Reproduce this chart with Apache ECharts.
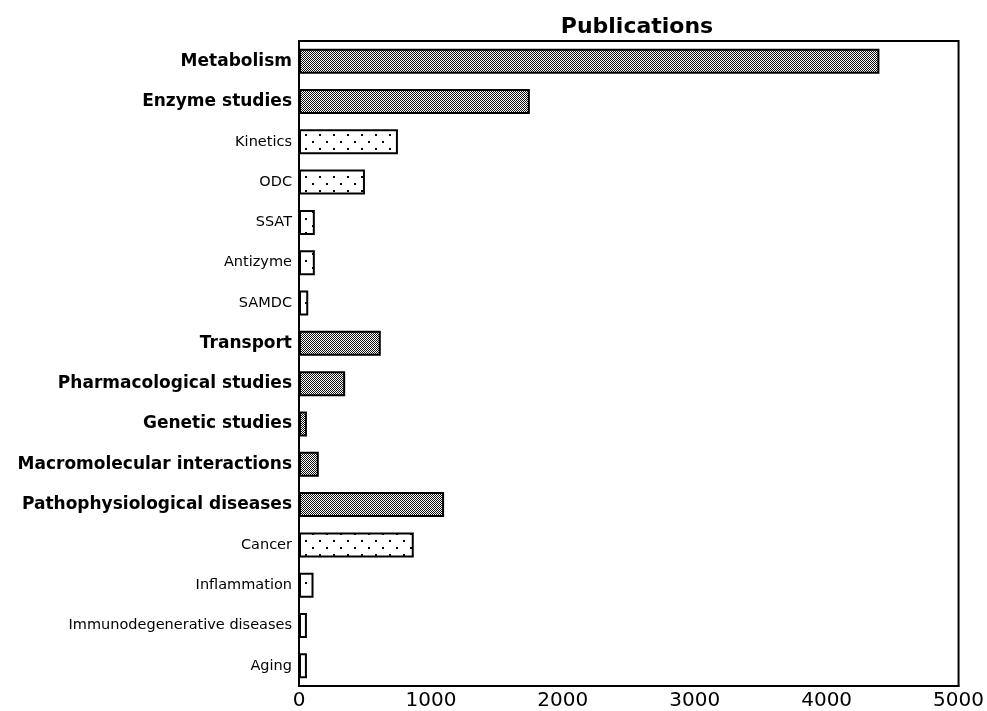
<!DOCTYPE html>
<html>
<head>
<meta charset="utf-8">
<script src="https://cdn.jsdelivr.net/npm/echarts@6/dist/echarts.min.js"></script>
<style>
  html, body { margin: 0; padding: 0; background: #fff; }
  #chart { width: 987px; height: 711px; }
</style>
</head>
<body>
<div id="chart"></div>
<script>
// categories top to bottom
var categories = [
    'Metabolism', 'Enzyme studies', 'Kinetics', 'ODC', 'SSAT', 'Antizyme', 'SAMDC',
    'Transport', 'Pharmacological studies', 'Genetic studies', 'Macromolecular interactions',
    'Pathophysiological diseases', 'Cancer', 'Inflammation', 'Immunodegenerative diseases', 'Aging'
];
var publications = [4400, 1750, 750, 500, 120, 120, 70, 620, 350, 60, 150, 1100, 870, 110, 60, 60];
// 1 = main topic (bold, dense hatch), 0 = subtopic (dotted)
var mainTopic = [1, 1, 0, 0, 0, 0, 0, 1, 1, 1, 1, 1, 0, 0, 0, 0];
var xTicks = [0, 1000, 2000, 3000, 4000, 5000];

// dense checker pattern
var hatch = document.createElement('canvas');
hatch.width = 2; hatch.height = 2;
var hc = hatch.getContext('2d');
hc.fillStyle = '#fff';
hc.fillRect(0, 0, 2, 2);
hc.fillStyle = '#111';
hc.fillRect(0, 0, 1, 1);
hc.fillRect(1, 1, 1, 1);

// sparse staggered dots
var dots = document.createElement('canvas');
dots.width = 14; dots.height = 14;
var dc = dots.getContext('2d');
dc.fillStyle = '#fff';
dc.fillRect(0, 0, 14, 14);
dc.fillStyle = '#000';
dc.fillRect(4, 1, 2, 2);
dc.fillRect(11, 8, 2, 2);

var barData = publications.map(function (v, i) {
    return {
        value: v,
        itemStyle: {
            color: { image: mainTopic[i] ? hatch : dots, repeat: 'repeat' }
        }
    };
});

var chart = echarts.init(document.getElementById('chart'), null, { renderer: 'canvas' });

var option = {
    animation: false,
    backgroundColor: '#fff',
    title: {
        text: 'Publications',
        left: 632,
        textAlign: 'center',
        top: 11,
        textStyle: { fontFamily: 'DejaVu Sans', fontWeight: 'bold', fontSize: 22, color: '#000' }
    },
    grid: {
        left: 299, right: 22, top: 41, bottom: 23,
        show: true, borderColor: '#000', borderWidth: 2
    },
    xAxis: {
        type: 'value',
        min: xTicks[0],
        max: xTicks[xTicks.length - 1],
        interval: 1000,
        axisLine: { show: true, lineStyle: { color: '#000', width: 2 } },
        axisTick: { show: false },
        splitLine: { show: false },
        axisLabel: {
            color: '#000', fontFamily: 'DejaVu Sans', fontSize: 20, margin: 5,
            formatter: function (v) { return String(v); }
        }
    },
    yAxis: {
        type: 'category',
        data: categories,
        inverse: true,
        axisLine: { show: true, lineStyle: { color: '#000', width: 2 } },
        axisTick: { show: false },
        axisLabel: {
            margin: 7,
            formatter: function (val, idx) {
                return mainTopic[idx] ? '{b|' + val + '}' : '{n|' + val + '}';
            },
            rich: {
                b: { fontFamily: 'DejaVu Sans', fontWeight: 'bold', fontSize: 17, color: '#000' },
                n: { fontFamily: 'DejaVu Sans', fontSize: 14.5, color: '#000' }
            }
        }
    },
    series: [{
        type: 'bar',
        data: barData,
        barWidth: 25,
        itemStyle: { borderColor: '#000', borderWidth: 2 }
    }]
};

chart.setOption(option);
window.addEventListener('resize', chart.resize);
</script>
</body>
</html>
